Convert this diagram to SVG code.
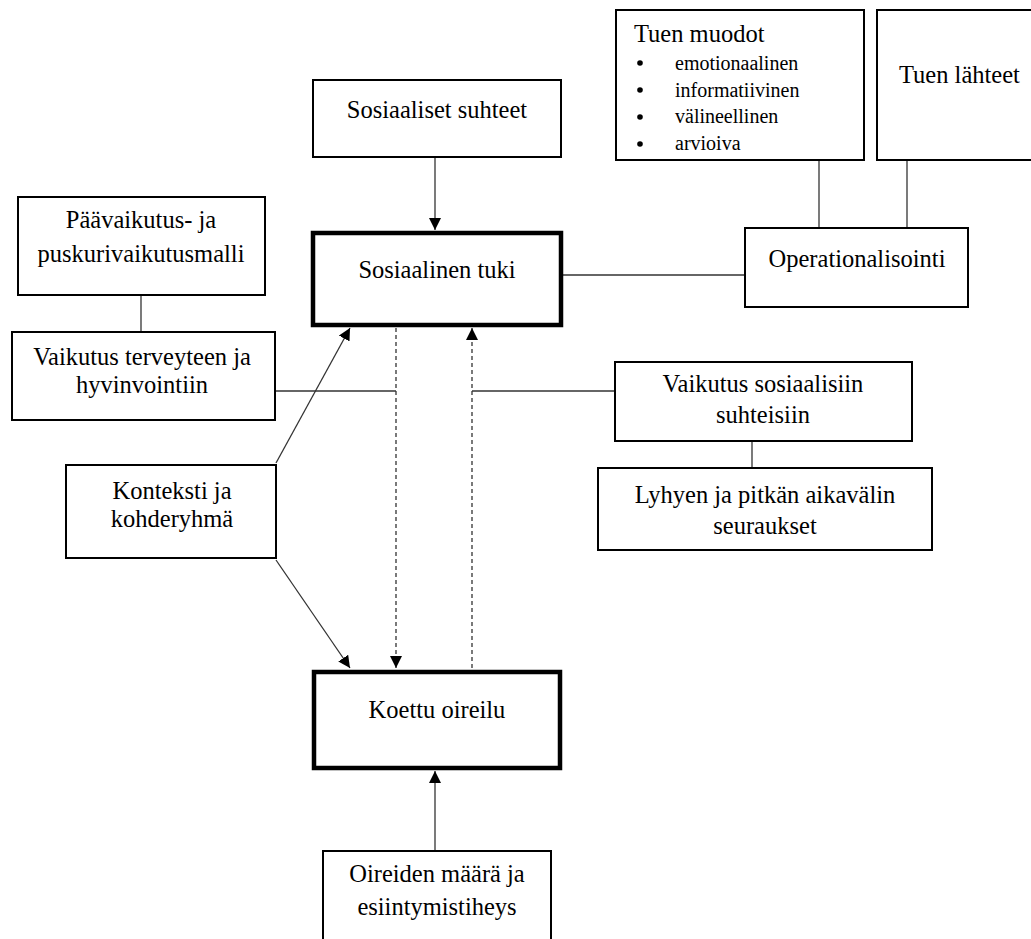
<svg xmlns="http://www.w3.org/2000/svg" width="1031" height="939" viewBox="0 0 1031 939">
<style>
.box{fill:#fff;stroke:#000;stroke-width:2}
.thick{fill:#fff;stroke:#000;stroke-width:4.5}
.t{font-family:"Liberation Serif","Times New Roman",serif;font-size:24.5px;fill:#000;text-anchor:middle}
.s{font-family:"Liberation Serif","Times New Roman",serif;font-size:20px;fill:#000}
.ln{stroke:#333;stroke-width:1.3;fill:none}
.dash{stroke:#333;stroke-width:1.3;fill:none;stroke-dasharray:4 3}
</style>
<defs>
<marker id="ah" viewBox="0 0 12 12" refX="12" refY="6" markerWidth="12" markerHeight="12" markerUnits="userSpaceOnUse" orient="auto">
<path d="M0,0 L12,6 L0,12 z" fill="#000"/>
</marker>
</defs>
<rect width="1031" height="939" fill="#fff"/>
<g id="connectors">
<line class="ln" x1="435" y1="158" x2="435" y2="230" marker-end="url(#ah)"/>
<line class="ln" x1="276" y1="463" x2="350" y2="328" marker-end="url(#ah)"/>
<line class="ln" x1="276" y1="560" x2="350" y2="668" marker-end="url(#ah)"/>
<line class="dash" x1="396" y1="328" x2="396" y2="668" marker-end="url(#ah)"/>
<line class="dash" x1="472" y1="668" x2="472" y2="328" marker-end="url(#ah)"/>
<line class="ln" x1="435" y1="851" x2="435" y2="771" marker-end="url(#ah)"/>
<line class="ln" x1="563" y1="275" x2="745" y2="275"/>
<line class="ln" x1="819" y1="160" x2="819" y2="228"/>
<line class="ln" x1="907" y1="160" x2="907" y2="228"/>
<line class="ln" x1="141" y1="295" x2="141" y2="332"/>
<line class="ln" x1="275" y1="391" x2="396" y2="391"/>
<line class="ln" x1="472" y1="391" x2="615" y2="391"/>
<line class="ln" x1="752" y1="441" x2="752" y2="468"/>
</g>
<g id="tuen-muodot">
<rect class="box" x="616" y="10" width="248" height="150"/>
<text class="t" x="634" y="42" style="text-anchor:start">Tuen muodot</text>
<circle cx="640" cy="63" r="2.8"/>
<circle cx="640" cy="90" r="2.8"/>
<circle cx="640" cy="117" r="2.8"/>
<circle cx="640" cy="144" r="2.8"/>
<text class="s" x="675" y="70">emotionaalinen</text>
<text class="s" x="675" y="97">informatiivinen</text>
<text class="s" x="675" y="123">välineellinen</text>
<text class="s" x="675" y="150">arvioiva</text>
</g>
<g id="tuen-lahteet">
<rect class="box" x="877" y="10" width="170" height="150"/>
<text class="t" x="899" y="83" style="text-anchor:start">Tuen lähteet</text>
</g>
<g id="sosiaaliset-suhteet">
<rect class="box" x="313" y="80" width="248" height="77"/>
<text class="t" x="437" y="118">Sosiaaliset suhteet</text>
</g>
<g id="sosiaalinen-tuki">
<rect class="thick" x="313" y="233" width="248" height="92"/>
<text class="t" x="437" y="278">Sosiaalinen tuki</text>
</g>
<g id="operationalisointi">
<rect class="box" x="745" y="228" width="223" height="79"/>
<text class="t" x="857" y="267">Operationalisointi</text>
</g>
<g id="paavaikutus">
<rect class="box" x="18" y="197" width="247" height="98"/>
<text class="t" x="141" y="228">Päävaikutus- ja</text>
<text class="t" x="141" y="262">puskurivaikutusmalli</text>
</g>
<g id="vaikutus-terveyteen">
<rect class="box" x="12" y="332" width="263" height="88"/>
<text class="t" x="142" y="365">Vaikutus terveyteen ja</text>
<text class="t" x="142" y="393">hyvinvointiin</text>
</g>
<g id="vaikutus-sosiaalisiin">
<rect class="box" x="615" y="362" width="297" height="79"/>
<text class="t" x="763" y="392">Vaikutus sosiaalisiin</text>
<text class="t" x="763" y="423">suhteisiin</text>
</g>
<g id="lyhyen">
<rect class="box" x="598" y="468" width="334" height="82"/>
<text class="t" x="765" y="503">Lyhyen ja pitkän aikavälin</text>
<text class="t" x="765" y="534">seuraukset</text>
</g>
<g id="konteksti">
<rect class="box" x="66" y="465" width="210" height="93"/>
<text class="t" x="172" y="499">Konteksti ja</text>
<text class="t" x="172" y="527">kohderyhmä</text>
</g>
<g id="koettu-oireilu">
<rect class="thick" x="314" y="672" width="246" height="96"/>
<text class="t" x="437" y="718">Koettu oireilu</text>
</g>
<g id="oireiden">
<rect class="box" x="323" y="851" width="228" height="100"/>
<text class="t" x="437" y="882">Oireiden määrä ja</text>
<text class="t" x="437" y="915">esiintymistiheys</text>
</g>
</svg>
